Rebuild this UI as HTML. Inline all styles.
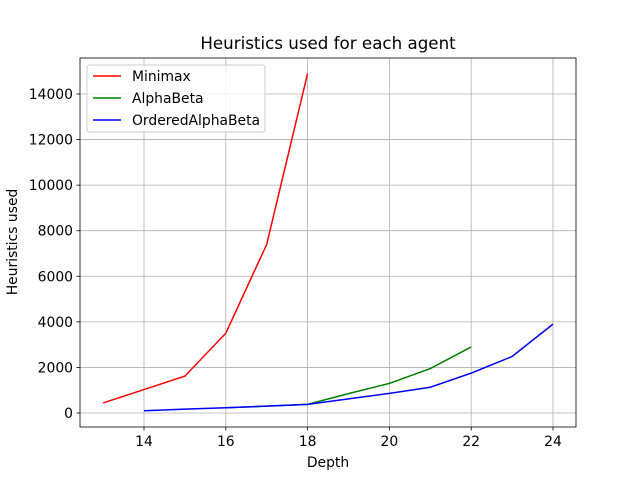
<!DOCTYPE html>
<html><head><meta charset="utf-8"><style>
body{margin:0;background:#fff;}
svg text{font-family:"DejaVu Sans","Liberation Sans",sans-serif;}
</style></head><body>
<svg id="chart" width="640" height="480" xmlns="http://www.w3.org/2000/svg">
<rect width="640" height="480" fill="#fff"/>
<g id="grid"></g><g id="series"></g><g id="axes"></g>
</svg>
<script>
const xTicks=[14,16,18,20,22,24];
const yTicks=[0,2000,4000,6000,8000,10000,12000,14000];
const minimaxX=[13,14,15,16,17,18];
const minimaxY=[440,1030,1620,3500,7400,14900];
const alphaX=[16,17,18,19,20,21,22];
const alphaY=[230,300,380,850,1300,1950,2900];
const orderedX=[14,15,16,17,18,19,20,21,22,23,24];
const orderedY=[100,170,230,300,380,620,860,1130,1750,2480,3900];
const seriesNames=["Minimax","AlphaBeta","OrderedAlphaBeta"];
const L=80,R=576,T=58,B=427;
function xs(v){return 144+(v-14)*40.9;}
function ys(v){return 413-v*0.022786;}
const NS="http://www.w3.org/2000/svg";
function mk(p,t,a){const e=document.createElementNS(NS,t);for(const k in a)e.setAttribute(k,a[k]);p.appendChild(e);return e;}
const grid=document.getElementById('grid'),ser=document.getElementById('series'),ax=document.getElementById('axes');
xTicks.forEach(v=>{const x=xs(v);
const g=mk(grid,'line',{x1:x,x2:x,y1:T,y2:B,stroke:'#b0b0b0','stroke-width':0.8});


mk(ax,'line',{x1:x,x2:x,y1:B,y2:B+3.5,stroke:'#000','stroke-width':0.8});
const t=mk(ax,'text',{x:x,y:B+19,'text-anchor':'middle','font-size':13.9});t.textContent=v;

});
yTicks.forEach(v=>{const y=ys(v);
const g=mk(grid,'line',{x1:L,x2:R,y1:y,y2:y,stroke:'#b0b0b0','stroke-width':0.8});


mk(ax,'line',{x1:L-3.5,x2:L,y1:y,y2:y,stroke:'#000','stroke-width':0.8});
const t=mk(ax,'text',{x:L-7,y:y+5,'text-anchor':'end','font-size':13.9});t.textContent=v;

});
const data=[[minimaxX,minimaxY,'#ff0000'],[alphaX,alphaY,'#008000'],[orderedX,orderedY,'#0000ff']];
data.forEach((d,i)=>{const pts=d[0].map((x,j)=>xs(x)+','+ys(d[1][j])).join(' ');
const p=mk(ser,'polyline',{points:pts,fill:'none',stroke:d[2],'stroke-width':1.5});

});
mk(ax,'rect',{x:L,y:T,width:R-L,height:B-T,fill:'none',stroke:'#000','stroke-width':0.8});
let t=mk(ax,'text',{x:328,y:49,'text-anchor':'middle','font-size':16.7});t.textContent='Heuristics used for each agent';


t=mk(ax,'text',{x:328,y:467,'text-anchor':'middle','font-size':13.9});t.textContent='Depth';


t=mk(ax,'text',{x:17,y:242,'text-anchor':'middle','font-size':13.9,transform:'rotate(-90 17 242)'});t.textContent='Heuristics used';


const lg=mk(ax,'g',{});


mk(lg,'rect',{x:87,y:65,width:178,height:67,rx:3,fill:'#fff','fill-opacity':0.8,stroke:'#ccc','stroke-width':1});
seriesNames.forEach((n,i)=>{const y=76+i*22;
mk(lg,'line',{x1:93,x2:121,y1:y,y2:y,stroke:data[i][2],'stroke-width':1.5});
const e=mk(lg,'text',{x:132,y:y+5,'font-size':13.9});e.textContent=n;

});
</script>
</body></html>
